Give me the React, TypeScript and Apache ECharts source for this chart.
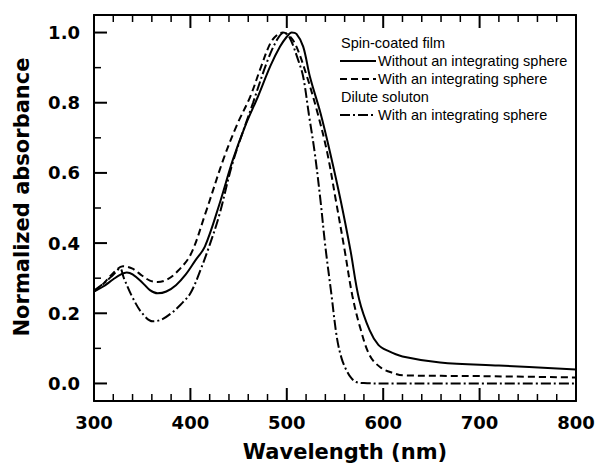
import React, { useEffect, useRef } from "react";
import * as echarts from "echarts";

// Spin-coated film, without integrating sphere (solid)
const filmNoSphereNm = [300, 310, 320, 328, 334, 340, 350, 358, 366, 375, 385, 395, 405, 415, 430, 444, 457, 470, 483, 493, 500, 505, 510, 517, 524, 535, 545, 556, 566, 575, 586, 595, 604, 620, 659, 720, 800];
const filmNoSphereAbs = [0.262, 0.277, 0.297, 0.311, 0.316, 0.311, 0.288, 0.266, 0.257, 0.262, 0.28, 0.31, 0.35, 0.39, 0.51, 0.637, 0.735, 0.817, 0.905, 0.96, 0.988, 1.0, 0.996, 0.96, 0.874, 0.77, 0.657, 0.52, 0.38, 0.24, 0.151, 0.11, 0.094, 0.077, 0.06, 0.051, 0.04];

// Spin-coated film, with integrating sphere (dashed)
const filmSphereNm = [300, 310, 320, 330, 340, 350, 358, 366, 375, 385, 400, 415, 434, 448, 462, 473, 483, 490, 496, 503, 510, 521, 532, 542, 551, 560, 568, 576, 586, 597, 610, 621, 700, 800];
const filmSphereAbs = [0.262, 0.285, 0.315, 0.334, 0.327, 0.307, 0.293, 0.289, 0.295, 0.315, 0.366, 0.48, 0.637, 0.735, 0.817, 0.9, 0.97, 0.993, 1.0, 0.99, 0.96, 0.874, 0.77, 0.657, 0.52, 0.38, 0.25, 0.16, 0.08, 0.046, 0.03, 0.023, 0.021, 0.017];

// Dilute solution, with integrating sphere (dash-dot)
const solutionNm = [300, 310, 320, 327, 331, 340, 350, 361, 370, 380, 390, 400, 410, 420, 430, 444, 465, 480, 490, 497, 503, 512, 517, 523, 529, 535, 540, 546, 552, 557, 562, 567, 572, 580, 600, 800];
const solutionAbs = [0.265, 0.285, 0.31, 0.328, 0.3, 0.245, 0.2, 0.177, 0.182, 0.2, 0.225, 0.257, 0.32, 0.395, 0.48, 0.63, 0.8, 0.92, 0.98, 1.0, 0.985, 0.92, 0.874, 0.765, 0.657, 0.52, 0.39, 0.26, 0.13, 0.07, 0.037, 0.015, 0.004, 0.001, 0.0, 0.0];

// Tick values
const xMajorTicks = [300, 400, 500, 600, 700, 800];
const xMinorTicks = [320, 340, 360, 380, 420, 440, 460, 480, 520, 540, 560, 580, 620, 640, 660, 680, 720, 740, 760, 780];
const yMajorTicks = [0.0, 0.2, 0.4, 0.6, 0.8, 1.0];
const yMinorTicks = [0.1, 0.3, 0.5, 0.7, 0.9];

const legendHeader1 = "Spin-coated film";
const legendHeader2 = "Dilute soluton";
const seriesNames = ["Without an integrating sphere", "With an integrating sphere", "With an integrating sphere "];

const zip = (xs: number[], ys: number[]) => xs.map((x, i) => [x, ys[i]]);

// kind: 0 x major, 1 x minor, 2 y major, 3 y minor
const tickData = [
  ...xMajorTicks.map((v) => [v, 0]),
  ...xMinorTicks.map((v) => [v, 1]),
  ...yMajorTicks.map((v) => [v, 2]),
  ...yMinorTicks.map((v) => [v, 3]),
];

export default function App() {
  const ref = useRef<HTMLDivElement>(null);
  useEffect(() => {
    if (!ref.current) return;
    const chart = echarts.init(ref.current, null, { renderer: "svg" });
    const boldFont = "DejaVu Sans";
    const legFont = "Liberation Sans";
    const axisLine = { show: true, onZero: false, lineStyle: { color: "#000", width: 2 } };
    chart.setOption({
      animation: false,
      backgroundColor: "#fff",
      grid: { left: 94, top: 15, right: 22, bottom: 68 },
      xAxis: [
        {
          type: "value",
          min: 300,
          max: 800,
          interval: 100,
          position: "bottom",
          axisLine,
          splitLine: { show: false },
          axisTick: { show: false },
          name: "Wavelength (nm)",
          nameLocation: "middle",
          nameGap: 40,
          nameTextStyle: { fontFamily: boldFont, fontWeight: "bold", fontSize: 21, color: "#000", padding: [0, 0, 0, 20] },
          axisLabel: { show: true, margin: 12, fontFamily: boldFont, fontWeight: "bold", fontSize: 18, color: "#000" },
        },
        {
          type: "value",
          min: 300,
          max: 800,
          interval: 100,
          position: "top",
          axisLine,
          splitLine: { show: false },
          axisTick: { show: false },
          axisLabel: { show: false },
        },
      ],
      yAxis: [
        {
          type: "value",
          min: -0.05,
          max: 1.05,
          position: "left",
          name: "Normalized absorbance",
          nameLocation: "middle",
          nameGap: 62,
          nameRotate: 90,
          nameTextStyle: { fontFamily: boldFont, fontWeight: "bold", fontSize: 21, color: "#000", padding: [0, 0, 0, 22] },
          axisLine,
          splitLine: { show: false },
          axisTick: { show: false },
          axisLabel: {
            show: true,
            margin: 14,
            customValues: yMajorTicks,
            fontFamily: boldFont,
            fontWeight: "bold",
            fontSize: 18,
            color: "#000",
            formatter: (v: number) => v.toFixed(1),
          },
        },
        {
          type: "value",
          min: -0.05,
          max: 1.05,
          position: "right",
          axisLine,
          splitLine: { show: false },
          axisTick: { show: false },
          axisLabel: { show: false },
        },
      ],
      series: [
        {
          name: seriesNames[0],
          type: "line",
          data: zip(filmNoSphereNm, filmNoSphereAbs),
          showSymbol: false,
          symbol: "none",
          smooth: 0.35,
          lineStyle: { color: "#000", width: 2, type: "solid" },
        },
        {
          name: seriesNames[1],
          type: "line",
          data: zip(filmSphereNm, filmSphereAbs),
          showSymbol: false,
          symbol: "none",
          smooth: 0.35,
          lineStyle: { color: "#000", width: 2, type: [7, 4] },
        },
        {
          name: seriesNames[2],
          type: "line",
          data: zip(solutionNm, solutionAbs),
          showSymbol: false,
          symbol: "none",
          smooth: 0.35,
          lineStyle: { color: "#000", width: 2, type: [10, 3, 2, 3] },
        },
        {
          name: "ticks",
          type: "custom",
          silent: true,
          clip: false,
          z: 5,
          encode: { x: -1, y: -1 },
          data: tickData,
          renderItem: (params: any, api: any) => {
            const v = api.value(0);
            const kind = api.value(1);
            const cs = params.coordSys;
            const major = kind === 0 || kind === 2;
            const len = major ? 13 : 7;
            const style = { stroke: "#000", lineWidth: major ? 2 : 1.5, fill: "none" };
            if (kind < 2) {
              const px = api.coord([v, 0.5])[0];
              const yb = cs.y + cs.height;
              const yt = cs.y;
              return {
                type: "group",
                children: [
                  { type: "line", shape: { x1: px, y1: yb, x2: px, y2: yb - len }, style },
                  { type: "line", shape: { x1: px, y1: yt, x2: px, y2: yt + len }, style },
                ],
              };
            }
            const py = api.coord([550, v])[1];
            const xl = cs.x;
            return { type: "line", shape: { x1: xl, y1: py, x2: xl + len, y2: py }, style };
          },
        },
      ],
      graphic: [
        { type: "text", left: 341, top: 35, style: { text: legendHeader1, fontFamily: legFont, fontSize: 14.5, fill: "#000" } },
        { type: "line", shape: { x1: 340, y1: 61, x2: 376, y2: 61 }, style: { stroke: "#000", lineWidth: 2 } },
        { type: "text", left: 378, top: 53, style: { text: seriesNames[0], fontFamily: legFont, fontSize: 14.5, fill: "#000" } },
        { type: "line", shape: { x1: 340, y1: 79, x2: 376, y2: 79 }, style: { stroke: "#000", lineWidth: 2, lineDash: [7, 4] } },
        { type: "text", left: 378, top: 71, style: { text: seriesNames[1].trim(), fontFamily: legFont, fontSize: 14.5, fill: "#000" } },
        { type: "text", left: 341, top: 89, style: { text: legendHeader2, fontFamily: legFont, fontSize: 14.5, fill: "#000" } },
        { type: "line", shape: { x1: 340, y1: 115, x2: 376, y2: 115 }, style: { stroke: "#000", lineWidth: 2, lineDash: [10, 3, 2, 3] } },
        { type: "text", left: 378, top: 107, style: { text: seriesNames[2].trim(), fontFamily: legFont, fontSize: 14.5, fill: "#000" } },
      ],
    });
    return () => chart.dispose();
  }, []);
  return <div ref={ref} style={{ width: 598, height: 469, position: "absolute", left: 0, top: 0 }} />;
}
